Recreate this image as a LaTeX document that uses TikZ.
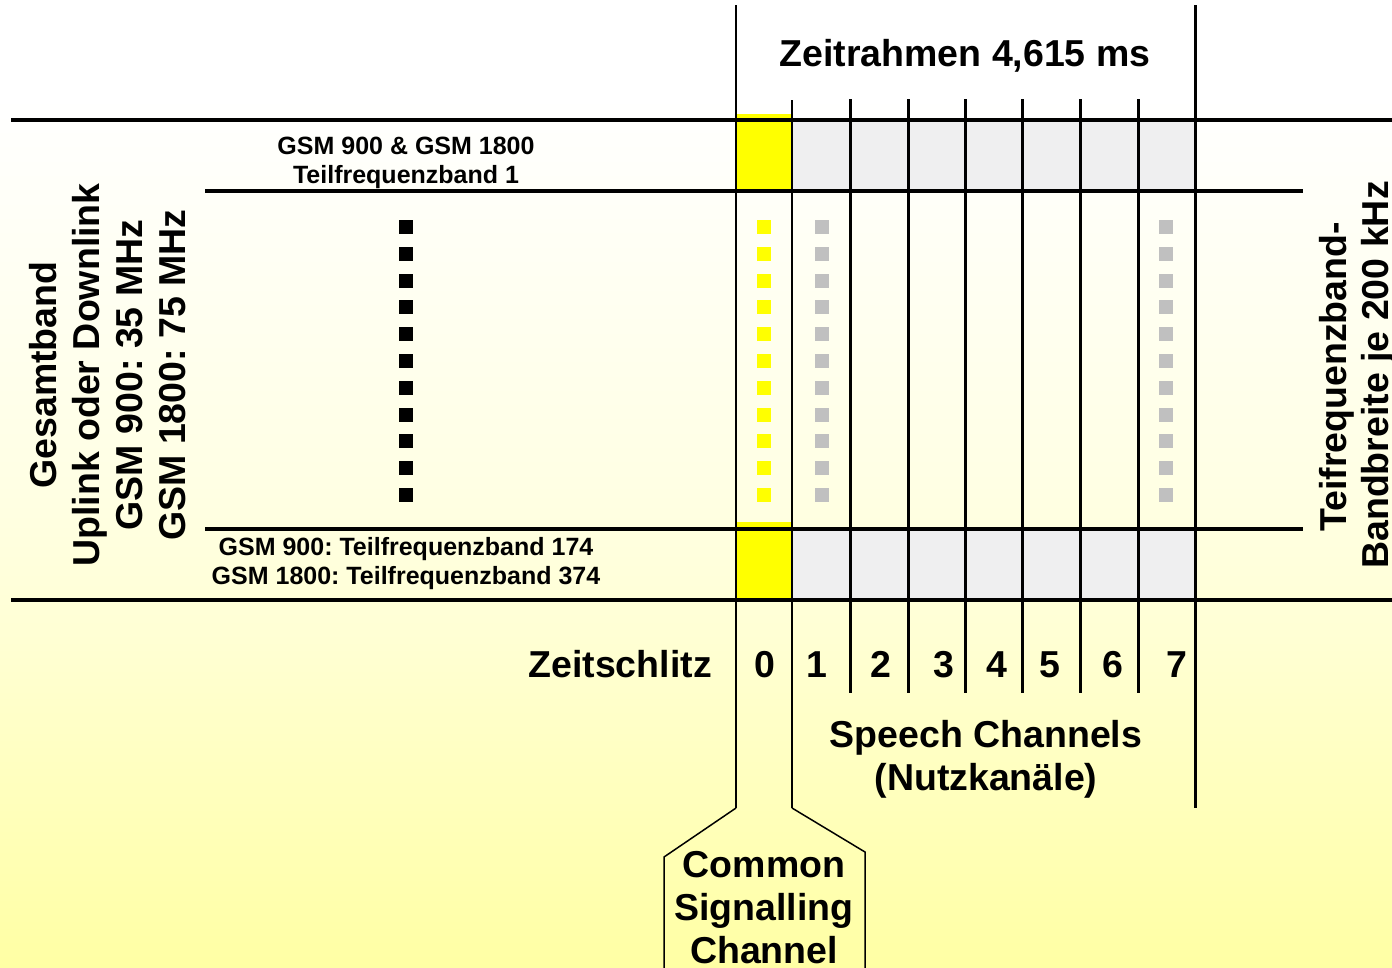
\documentclass[tikz,border=0pt]{standalone}
\usepackage{fontspec}
\setmainfont{Liberation Sans}
\frenchspacing
\definecolor{bgtop}{HTML}{FFFFFF}
\definecolor{bgmid}{HTML}{FFFFE4}
\definecolor{bglow}{HTML}{FFFFD6}
\definecolor{bgbot}{HTML}{FFFFA4}
\definecolor{cellgray}{HTML}{EFEFF0}
\definecolor{dotgray}{HTML}{C0C0C0}
\definecolor{sigyellow}{HTML}{FFFF00}
\pgfdeclareverticalshading{bgshade}{100bp}{color(0bp)=(bgbot); color(25bp)=(bgbot); color(43bp)=(bglow); color(50bp)=(bgmid); color(70bp)=(bgtop); color(100bp)=(bgtop)}
\begin{document}
\frenchspacing
\begin{tikzpicture}[x=1pt,y=-1pt,
  big/.style={font=\bfseries\fontsize{37.5}{43}\selectfont\frenchspacing, inner sep=0pt, anchor=base},
  small/.style={font=\bfseries\fontsize{25}{29}\selectfont\frenchspacing, inner sep=0pt, anchor=base},
  rot/.style={big, rotate=90},
  band/.style={line width=4pt},
  slotline/.style={line width=3pt},
  chanline/.style={line width=2pt},
  callout/.style={line width=1.5pt},
  sq/.style={minimum size=14pt, inner sep=0pt, draw=none}]
\useasboundingbox (0,0) rectangle (1392,967);
\shade[shading=bgshade] (0,0) rectangle (1392,967);
% cells
\fill[sigyellow] (736,114) rectangle (792,191);
\fill[sigyellow] (736,522) rectangle (792,600);
\fill[cellgray] (792,120) rectangle (1195,191);
\fill[cellgray] (792,529) rectangle (1195,600);
% coordinates
\coordinate (t0) at (736,5);   \coordinate (b0) at (736,808);
\coordinate (t1) at (792,100); \coordinate (b1) at (792,808);
\coordinate (tE) at (1195,5);  \coordinate (bE) at (1195,808);
\coordinate (cl) at (664,857); \coordinate (clb) at (664,970);
\coordinate (cr) at (865,852); \coordinate (crb) at (865,970);
% horizontal lines
\draw[band] (11,120) -- (1392,120);
\draw[band] (205,191) -- (1303,191);
\draw[band] (205,529) -- (1303,529);
\draw[band] (11,600) -- (1392,600);
% vertical lines
\draw[chanline] (t0) -- (b0);
\draw[chanline] (t1) -- (b1);
\draw[slotline] (tE) -- (bE);
\foreach \x in {850,908,965,1022,1080,1138}
  \draw[slotline] (\x,99) -- (\x,693);
\draw[callout] (b0) -- (cl) -- (clb);
\draw[callout] (b1) -- (cr) -- (crb);
% dots
\foreach \i in {0,...,10}{
  \node[sq, fill=black] at (406,227+26.8*\i) {};
  \node[sq, fill=sigyellow] at (764,227+26.8*\i) {};
  \node[sq, fill=dotgray] at (822,227+26.8*\i) {};
  \node[sq, fill=dotgray] at (1166,227+26.8*\i) {};
}
% texts
\node[big] (zr) at (965,66) {Zeitrahmen 4,615 ms};
\node[big, anchor=base east] (zs) at (712,677) {Zeitschlitz};
\foreach \d/\x in {0/765,1/817,2/881,3/944,4/997,5/1050,6/1113,7/1177}
  \node[big] (s\d) at (\x,677) {\d};
\node[big] (sp1) at (986,747) {Speech Channels};
\node[big] (sp2) at (986,790) {(Nutzkanäle)};
\node[big] (cs1) at (764,877) {Common};
\node[big] (cs2) at (764,920) {Signalling};
\node[big] (cs3) at (764,963) {Channel};
\node[small] (f1a) at (406,154) {GSM 900 \& GSM 1800};
\node[small] (f1b) at (406,183) {Teilfrequenzband 1};
\node[small] (f2a) at (406,555) {GSM 900: Teilfrequenzband 174};
\node[small] (f2b) at (406,584) {GSM 1800: Teilfrequenzband 374};
\node[rot] (l1) at (56,375) {Gesamtband};
\node[rot] (l2) at (99,375) {Uplink oder Downlink};
\node[rot] (l3) at (142,375) {GSM 900: 35 MHz};
\node[rot] (l4) at (185,375) {GSM 1800: 75 MHz};
\node[rot] (r1) at (1346,377) {Teifrequenzband-};
\node[rot] (r2) at (1388,375) {Bandbreite je 200 kHz};
\end{tikzpicture}
\end{document}
